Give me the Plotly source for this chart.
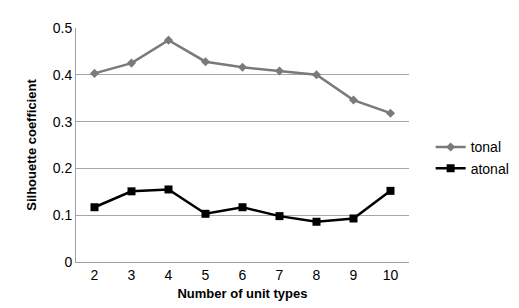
import plotly.graph_objects as go

categories = ["2", "3", "4", "5", "6", "7", "8", "9", "10"]
tonal = [0.403, 0.425, 0.474, 0.428, 0.416, 0.408, 0.400, 0.346, 0.318]
atonal = [0.117, 0.151, 0.155, 0.103, 0.117, 0.098, 0.086, 0.093, 0.152]
y_ticks = [0, 0.1, 0.2, 0.3, 0.4, 0.5]
y_tick_labels = ["0", "0.1", "0.2", "0.3", "0.4", "0.5"]

fig = go.Figure()
fig.add_trace(go.Scatter(x=categories, y=tonal, name="tonal", mode="lines+markers",
                         line=dict(color="#7a7a7a", width=2.5),
                         marker=dict(symbol="diamond", size=7, color="#7a7a7a")))
fig.add_trace(go.Scatter(x=categories, y=atonal, name="atonal", mode="lines+markers",
                         line=dict(color="#000000", width=2.5),
                         marker=dict(symbol="square", size=8, color="#000000")))

fig.update_layout(
    width=519, height=308,
    margin=dict(l=68, r=80, t=12, b=54),
    paper_bgcolor="white", plot_bgcolor="white",
    font=dict(family="Liberation Sans, Arial, sans-serif", size=14, color="#000"),
    showlegend=True,
    legend=dict(x=1.065, y=0.445, xanchor="left", yanchor="middle",
                font=dict(size=14), itemwidth=30, tracegroupgap=2,
                bgcolor="rgba(0,0,0,0)"),
    xaxis=dict(type="category", range=[-0.5, 8.5], showgrid=False,
               showline=True, linecolor="#a0a0a0", linewidth=1,
               ticks="", tickfont=dict(size=14),
               title=dict(text="<b>Number of unit types</b>", font=dict(size=13), standoff=7)),
    yaxis=dict(range=[0, 0.5], tickvals=y_ticks, ticktext=y_tick_labels,
               showgrid=True, gridcolor="#a6a6a6", gridwidth=1,
               showline=True, linecolor="#a0a0a0", linewidth=1, zeroline=False,
               ticks="", tickfont=dict(size=14),
               title=dict(text="<b>Silhouette coefficient</b>", font=dict(size=13), standoff=13)),
)
fig.write_html("out.html")
